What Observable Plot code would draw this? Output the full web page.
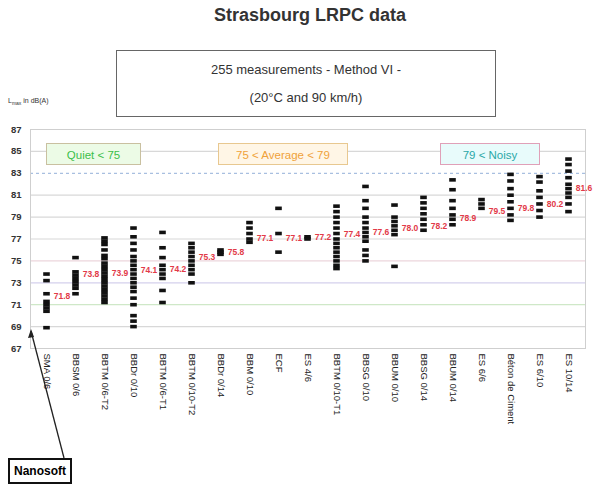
<!DOCTYPE html>
<html>
<head>
<meta charset="utf-8">
<script src="https://cdn.jsdelivr.net/npm/d3@7"></script>
<script src="https://cdn.jsdelivr.net/npm/@observablehq/plot@0.6"></script>
<style>
  body { margin: 0; background: #fff; font-family: "Liberation Sans", Arial, sans-serif; }
  #wrap { position: relative; width: 594px; height: 490px; overflow: hidden; }
  #chart { position: absolute; left: 0; top: 0; }
  .ov { position: absolute; }
  #title { left: 0; width: 620px; top: 5px; text-align: center; font-weight: bold; font-size: 18px; color: #333; }
  #sub { left: 116px; top: 50px; width: 380px; height: 67px; border: 1px solid #666; text-align: center; font-size: 13px; color: #333; line-height: 28px; padding-top: 5px; box-sizing: border-box; }
  #ylab { left: 8px; top: 97px; font-size: 7px; color: #333; }
  .leg { top: 143px; height: 22px; line-height: 22px; font-size: 11.5px; text-align: center; box-sizing: border-box; }
  #nano { left: 8px; top: 458px; width: 64px; height: 26px; border: 2px solid #111; font-weight: bold; font-size: 12px; line-height: 22px; text-align: center; box-sizing: border-box; background: #fff; }
</style>
</head>
<body>
<div id="wrap">
  <div id="chart"></div>
  <div class="ov" id="title">Strasbourg LRPC data</div>
  <div class="ov" id="sub">255 measurements - Method VI -<br>(20°C and 90 km/h)</div>
  <div class="ov" id="ylab">L<sub style="font-size:5px">max</sub> in dB(A)</div>
  <div class="ov leg" style="left:46px;width:95px;color:#3cbf4a;background:#ecfbe6;border:1px solid #c9c0a0;">Quiet &lt; 75</div>
  <div class="ov leg" style="left:218px;width:130px;color:#f0a23a;background:#fff6e6;border:1px solid #e8c890;">75 &lt; Average &lt; 79</div>
  <div class="ov leg" style="left:440px;width:100px;color:#2aa8a8;background:#e8fbfb;border:1px solid #e0a0b8;">79 &lt; Noisy</div>
  <svg class="ov" style="left:0;top:0;pointer-events:none" width="594" height="490">
    <line x1="64" y1="458" x2="31" y2="331" stroke="#222" stroke-width="1.3"/>
    <polygon points="31,329 28,338 34,337" fill="#222"/>
  </svg>
  <div class="ov" id="nano">Nanosoft</div>
</div>
<script>
const categories = ["SMA 0/6", "BBSM 0/6", "BBTM 0/6-T2", "BBDr 0/10", "BBTM 0/6-T1", "BBTM 0/10-T2", "BBDr 0/14", "BBM 0/10", "ECF", "ES 4/6", "BBTM 0/10-T1", "BBSG 0/10", "BBUM 0/10", "BBSG 0/14", "BBUM 0/14", "ES 6/6", "Béton de Ciment", "ES 6/10", "ES 10/14"];

const measurements = [
  [73.8, 73.2, 72.0, 71.3, 71.0, 70.7, 70.4, 68.9],
  [75.3, 74.0, 73.7, 73.4, 73.1, 72.8, 72.5, 72.0],
  [77.1, 76.8, 76.5, 76.0, 75.5, 75.2, 74.8, 74.5, 74.2, 73.9, 73.6, 73.3, 73.0, 72.7, 72.4, 72.1, 71.8, 71.5, 71.2],
  [78.0, 77.2, 76.6, 76.0, 75.4, 75.0, 74.6, 74.2, 73.8, 73.4, 73.0, 72.6, 72.2, 71.6, 71.0, 70.0, 69.5, 69.0],
  [77.6, 76.2, 75.3, 74.6, 74.2, 73.8, 73.4, 72.3, 71.2],
  [76.6, 76.2, 75.8, 75.4, 75.0, 74.6, 74.2, 73.8, 73.0],
  [76.0, 75.8, 75.6],
  [78.5, 78.0, 77.5, 77.0, 76.7],
  [79.8, 77.5, 75.8],
  [77.2, 77.0],
  [80.0, 79.5, 79.0, 78.5, 78.0, 77.5, 77.0, 76.6, 76.2, 75.8, 75.4, 75.0, 74.6, 74.3],
  [81.8, 80.5, 79.8, 79.0, 78.5, 78.0, 77.6, 77.2, 76.8, 76.0, 75.5, 75.0],
  [80.1, 79.0, 78.6, 78.2, 77.8, 77.4, 74.5],
  [80.8, 80.3, 79.8, 79.3, 78.8, 78.3, 77.8],
  [82.4, 81.5, 80.5, 79.8, 79.2, 78.8, 78.3],
  [80.6, 80.2, 79.8],
  [82.9, 82.3, 81.6, 81.0, 80.4, 79.8, 79.2, 78.7],
  [82.7, 82.2, 81.4, 80.8, 80.2, 79.6, 79.0],
  [84.3, 83.8, 83.2, 82.6, 82.0, 81.6, 81.2, 80.8, 80.2, 79.5]
];

const means = [71.8, 73.8, 73.9, 74.1, 74.2, 75.3, 75.8, 77.1, 77.1, 77.2, 77.4, 77.6, 78.0, 78.2, 78.9, 79.5, 79.8, 80.2, 81.6];

const yTicks = [67, 69, 71, 73, 75, 77, 79, 81, 83, 85, 87];

const points = measurements.flatMap((vals, i) => vals.map(v => ({cat: categories[i], v})));
const meanData = categories.map((c, i) => ({cat: c, m: means[i]}));
const gridColors = ["#d8d8d8", "#d8d8d8", "#cfe8c8", "#d4d0ec", "#ecd6dc", "#d8d8d8", "#d8d8d8", "#d8d8d8", "#c8d8ec", "#d8d8d8", "#d8d8d8"];
const grid = yTicks.map((t, i) => ({t, c: gridColors[i]}));

const chart = Plot.plot({
  width: 594,
  height: 490,
  marginTop: 129,
  marginBottom: 142,
  marginLeft: 30,
  marginRight: 9,
  style: {fontFamily: "Liberation Sans, Arial, sans-serif", background: "transparent"},
  x: {domain: categories, type: "band", padding: 0, label: null, tickSize: 0, tickRotate: 90, tickPadding: 5},
  y: {domain: [67, 87], ticks: yTicks, label: null, tickSize: 0, tickPadding: 3},
  marks: [
    Plot.ruleY(grid.filter(d => d.t !== 83 && d.t !== 67 && d.t !== 87), {y: "t", stroke: "c", strokeWidth: 1.2}),
    Plot.ruleY([83], {stroke: "#a8bfe0", strokeDasharray: "3,3", strokeWidth: 1.2}),
    Plot.frame({stroke: "#cfcfcf"}),
    Plot.tickY(points, {x: "cat", y: "v", stroke: "#111", strokeWidth: 3.6, insetLeft: 11.2, insetRight: 11.2}),
    Plot.text(meanData, {x: "cat", y: "m", text: d => d.m.toFixed(1), dx: 15, fill: "#e23a48", fontSize: 8.5, fontWeight: "bold", textAnchor: "middle"}),
    Plot.axisY({ticks: yTicks, tickSize: 0, fontSize: 9.5, fill: "#333", fontWeight: "bold"}),
    Plot.axisX({tickSize: 0, tickRotate: 90, tickPadding: 5, fontSize: 9.5, fill: "#222", textAnchor: "start"})
  ]
});
document.getElementById("chart").appendChild(chart);
</script>
</body>
</html>
